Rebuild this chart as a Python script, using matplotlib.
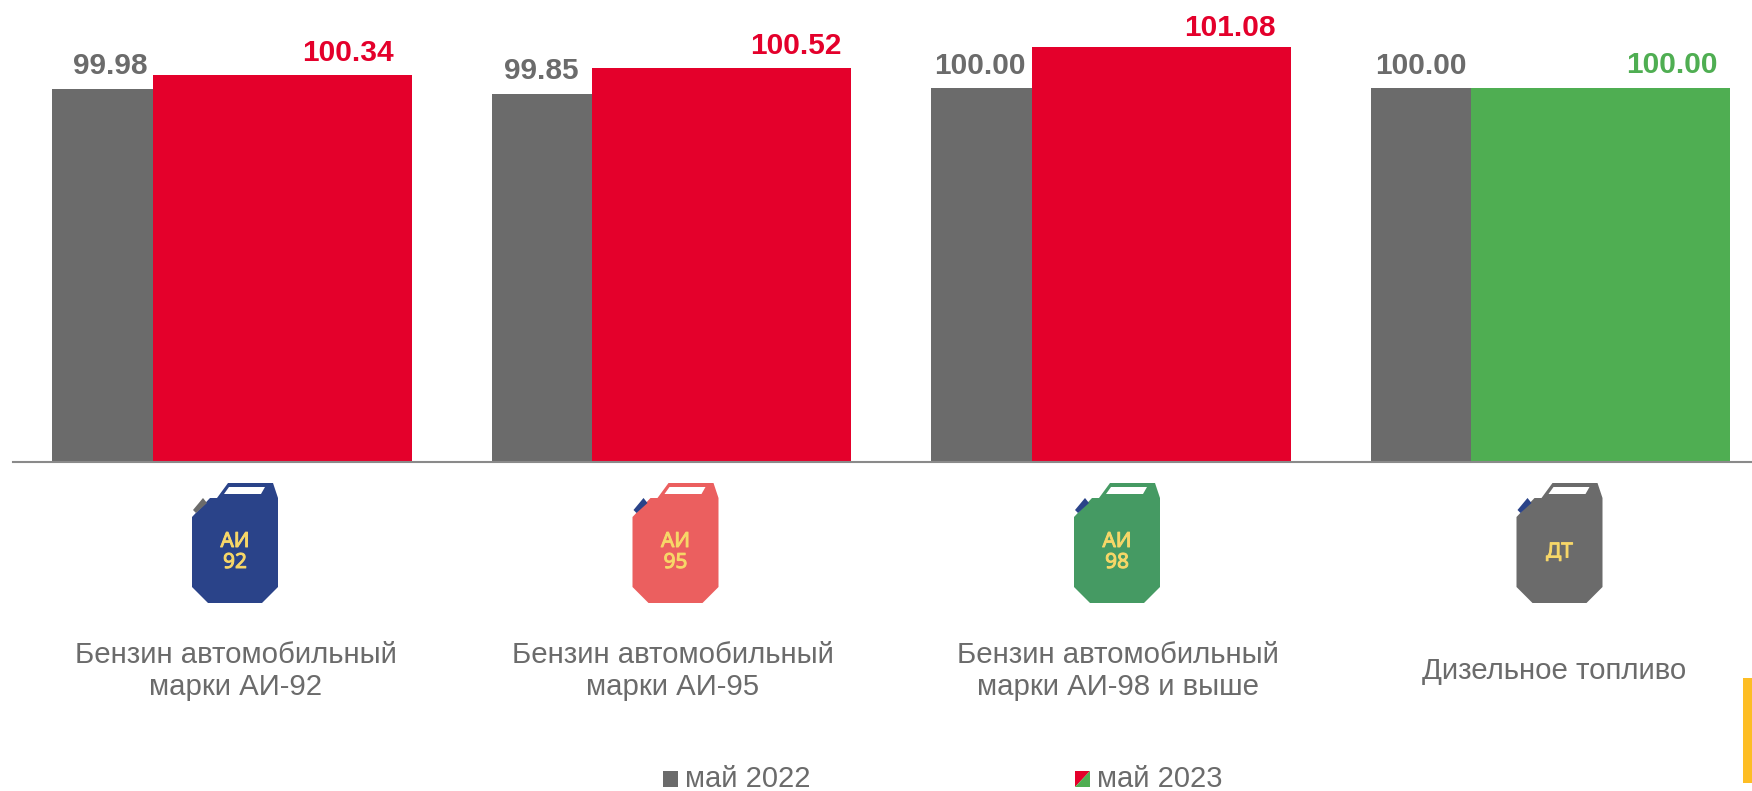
import numpy as np
import matplotlib
matplotlib.use("Agg")
import matplotlib.pyplot as plt
import matplotlib.patheffects as pe
from matplotlib.patches import Polygon, Rectangle
from matplotlib.transforms import Affine2D

categories = [
    "Бензин автомобильный\nмарки АИ-92",
    "Бензин автомобильный\nмарки АИ-95",
    "Бензин автомобильный\nмарки АИ-98 и выше",
    "Дизельное топливо",
]
icon_labels = ["АИ\n92", "АИ\n95", "АИ\n98", "ДТ"]
series_names = ["май 2022", "май 2023"]
may_2022 = [99.98, 99.85, 100.00, 100.00]
may_2023 = [100.34, 100.52, 101.08, 100.00]

GRAY = "#6b6b6b"
RED = "#e4002b"
GREEN = "#4fae52"
NAVY = "#2a4389"
YELLOW = "#f7d768"
colors_2023 = [RED, RED, RED, GREEN]
icon_colors = [NAVY, "#eb5f5f", "#459a63", GRAY]
cap_colors = [GRAY, NAVY, NAVY, NAVY]

W, H = 1752, 791
PERIOD = 439.5  # px between groups
X0 = 52
Y_100 = 88  # px of value 100
PX_PER_UNIT = 38
Y_BASE = 462
base_value = 100 + (Y_100 - Y_BASE) / PX_PER_UNIT

plt.rcParams["font.family"] = ["Liberation Sans", "DejaVu Sans"]

fig = plt.figure(figsize=(W / 100, H / 100), dpi=100)
ax = fig.add_axes([0, 0, 1, 1])
ax.set_xlim(-X0 / PERIOD, (W - X0) / PERIOD)
ax.set_ylim(100 + (Y_100 - H) / PX_PER_UNIT, 100 + Y_100 / PX_PER_UNIT)
ax.axis("off")

# pixel coords, y down
px = Affine2D().scale(1, -1).translate(0, H)

x = np.arange(len(categories))
w1 = 100.5 / PERIOD
w2 = 259 / PERIOD
ax.bar(x, np.array(may_2022) - base_value, w1, bottom=base_value, color=GRAY, align="edge")
ax.bar(x + w1, np.array(may_2023) - base_value, w2, bottom=base_value, color=colors_2023, align="edge")
ax.plot([13, W], [Y_BASE, Y_BASE], color="#8a8a8a", lw=1.5, transform=px, clip_on=False)

label_style = dict(ha="center", va="center", fontsize=21.5, fontweight="bold")
gray_shift = [(8, 1), (0, 0), (-1, 0), (0, 0)]
red_shift = [(0, 0), (9, 0), (3, -3), (6, 1)]
for i, (v1, v2) in enumerate(zip(may_2022, may_2023)):
    dx, dy = gray_shift[i]
    ax.annotate(f"{v1:.2f}", (x[i] + w1 / 2, v1), xytext=(dx * 0.72, 16 + dy * 0.72),
                textcoords="offset points", color=GRAY, **label_style)
    dx, dy = red_shift[i]
    ax.annotate(f"{v2:.2f}", (x[i] + w1 + w2, v2), xytext=((dx - 64) * 0.72, 16 + dy * 0.72),
                textcoords="offset points", color=colors_2023[i], **label_style)


def draw_canister(dx, body, cap, text):
    def poly(pts, color, z=3):
        pts = np.array(pts, dtype=float) + [dx, 0]
        ax.add_patch(Polygon(pts, closed=True, fc=color, ec="none", transform=px, zorder=z))

    poly([(192, 517), (210, 498), (278, 498), (278, 587), (262, 603),
          (208, 603), (192, 587)], body)
    poly([(217, 498), (228, 483), (273, 483), (278, 498)], body)
    poly([(224, 494), (229, 487), (265, 487), (261, 494)], "white", 4)
    poly([(193, 510), (203, 498), (207, 503), (196, 513)], cap)
    ax.text(235 + dx, 552, text, transform=px, color=YELLOW, ha="center", va="center",
            fontsize=15, fontweight="bold", family="Noto Sans", linespacing=1.0, zorder=5,
            path_effects=[pe.withStroke(linewidth=0.7, foreground=YELLOW)])


icon_shift = [0, 1, 3, 6]
for i in x:
    draw_canister(i * PERIOD + icon_shift[i], icon_colors[i], cap_colors[i], icon_labels[i])

label_x = [236, 673, 1118, 1554]
for i, lab in enumerate(categories):
    ax.text(label_x[i], 671, lab, transform=px, ha="center", va="center",
            fontsize=21.2, color=GRAY, linespacing=1.2)

# legend
ax.add_patch(Rectangle((663, 771), 15, 16, fc=GRAY, ec="none", transform=px))
ax.text(685, 779, series_names[0], transform=px, va="center", fontsize=21, color=GRAY)
ax.add_patch(Polygon([(1075, 771), (1090, 771), (1075, 787)], fc=RED, ec="none", transform=px))
ax.add_patch(Polygon([(1090, 771), (1090, 787), (1075, 787)], fc=GREEN, ec="none", transform=px))
ax.text(1097, 779, series_names[1], transform=px, va="center", fontsize=21, color=GRAY)

# yellow strip at the slide edge
ax.add_patch(Rectangle((1743, 678), 9, 105, fc="#fdbd24", ec="none", transform=px))

fig.savefig("out.png", dpi=100)
